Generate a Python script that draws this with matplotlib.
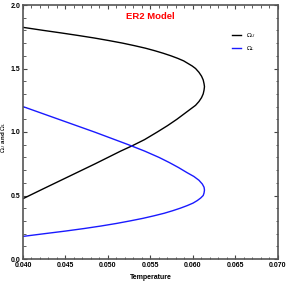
import matplotlib
matplotlib.use("Agg")
import matplotlib.pyplot as plt
from matplotlib.ticker import MultipleLocator, FormatStrFormatter

plt.rcParams['font.family'] = ['Liberation Sans', 'DejaVu Sans']

# Omega_U curve: omega values along the curve and the temperature read at each
omega_U = [1.824, 1.80, 1.78, 1.76, 1.74, 1.72, 1.70, 1.68, 1.66, 1.64, 1.62, 1.60,
           1.58, 1.56, 1.54, 1.52, 1.50, 1.47, 1.44, 1.41, 1.38, 1.357, 1.33, 1.30,
           1.27, 1.24, 1.21, 1.19, 1.15, 1.10, 1.05, 1.00, 0.94, 0.89, 0.85, 0.80,
           0.75, 0.65, 0.55, 0.475]
temp_U = [0.0400, 0.0424, 0.0445, 0.0465, 0.0484, 0.0501, 0.0517, 0.0531, 0.0544,
          0.0555, 0.0565, 0.0574, 0.0582, 0.0589, 0.0594, 0.0599, 0.0603, 0.0607,
          0.0610, 0.0612, 0.0613, 0.06135, 0.0613, 0.0612, 0.0610, 0.0607, 0.0603,
          0.0599, 0.0591, 0.0581, 0.0570, 0.0558, 0.0543, 0.0528, 0.0515, 0.0500,
          0.0485, 0.0454, 0.0423, 0.0400]

# Omega_L curve
omega_L = [1.200, 1.15, 1.10, 1.05, 1.00, 0.95, 0.90, 0.85, 0.80, 0.76, 0.72, 0.68,
           0.65, 0.62, 0.59, 0.565, 0.543, 0.52, 0.50, 0.48, 0.46, 0.44, 0.42, 0.40,
           0.38, 0.36, 0.34, 0.32, 0.30, 0.28, 0.26, 0.24, 0.22, 0.20, 0.178]
temp_L = [0.0400, 0.0421, 0.0442, 0.0463, 0.0484, 0.0504, 0.0524, 0.0543, 0.0560,
          0.0572, 0.0583, 0.0593, 0.0601, 0.0607, 0.0611, 0.0613, 0.06135, 0.0613,
          0.0612, 0.0609, 0.0605, 0.0600, 0.0593, 0.0585, 0.0576, 0.0566, 0.0554,
          0.0541, 0.0526, 0.0510, 0.0492, 0.0472, 0.0450, 0.0426, 0.0400]

title = "ER2 Model"
labels = [r"$\Omega_U$", r"$\Omega_L$"]
xlabel = "Temperature"
ylabel = r"$\Omega_U$ and $\Omega_L$"

fig = plt.figure(figsize=(2.88, 2.82), dpi=100)
ax = fig.add_axes([23/288, 1-259/282, 255/288, 254/282])

ax.plot(temp_U, omega_U, color='black', lw=1.0, label=labels[0])
ax.plot(temp_L, omega_L, color='#1a1aff', lw=1.0, label=labels[1])

ax.set_xlim(0.040, 0.070)
ax.set_ylim(0, 2.0)
ax.xaxis.set_major_locator(MultipleLocator(0.005))
ax.xaxis.set_minor_locator(MultipleLocator(0.001))
ax.yaxis.set_major_locator(MultipleLocator(0.5))
ax.yaxis.set_minor_locator(MultipleLocator(0.1))
ax.xaxis.set_major_formatter(FormatStrFormatter('%.3f'))
ax.yaxis.set_major_formatter(FormatStrFormatter('%.1f'))
ax.tick_params(which='both', direction='in', top=True, right=True, labelsize=5, pad=2)
ax.tick_params(which='major', length=3, width=0.8, color='#444444')
ax.tick_params(which='minor', length=1.8, width=0.6, color='#444444')
for s in ax.spines.values():
    s.set_color('#555555')
    s.set_linewidth(1.2)
for lab in ax.get_xticklabels() + ax.get_yticklabels():
    lab.set_fontweight('bold')

ax.text(0.5, 0.955, title, transform=ax.transAxes, color='red', fontsize=6.8,
        fontweight='bold', ha='center', va='center')
ax.set_xlabel(xlabel, fontsize=5, fontweight='bold', labelpad=4)
ax.set_ylabel(ylabel, fontsize=4.5, fontweight='bold')
ax.yaxis.set_label_coords(-0.058, 0.48)

ax.legend(loc='upper right', bbox_to_anchor=(0.935, 0.92), fontsize=4.6, frameon=False,
          handlelength=1.4, handletextpad=0.7, labelspacing=0.7)

fig.savefig("out.png", dpi=100)
